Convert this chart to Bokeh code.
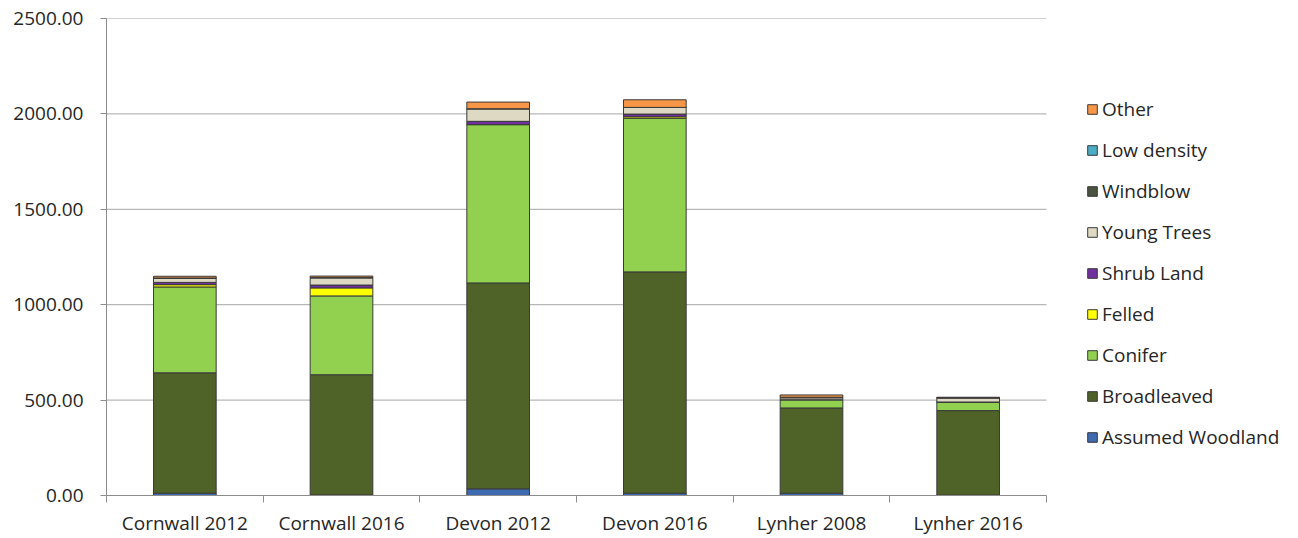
from bokeh.plotting import figure
from bokeh.models import Legend, LegendItem, Range1d, FixedTicker, NumeralTickFormatter, ColumnDataSource
from bokeh.embed import file_html
from bokeh.resources import INLINE

categories = ["Cornwall 2012", "Cornwall 2016", "Devon 2012", "Devon 2016", "Lynher 2008", "Lynher 2016"]
series_names = ["Assumed Woodland", "Broadleaved", "Conifer", "Felled", "Shrub Land",
                "Young Trees", "Windblow", "Low density", "Other"]

assumed_woodland = [12, 3, 35, 12, 12, 2]
broadleaved = [631, 630, 1079, 1160, 447, 443]
conifer = [450, 413, 830, 805, 43, 45]
felled = [12, 42, 0, 8, 0, 0]
shrub_land = [12, 15, 17, 14, 0, 0]
young_trees = [21, 37, 66, 35, 10, 22]
windblow = [2, 3, 0, 0, 3, 0]
low_density = [0, 0, 0, 0, 0, 0]
other = [9, 7, 35, 40, 12, 3]

y_ticks = [0, 500, 1000, 1500, 2000, 2500]

colors = ["#3D6AB0", "#4F6228", "#92D050", "#FFFF00", "#7030A0",
          "#DDD9C3", "#4A5240", "#4BACC6", "#F79646"]

positions = list(range(len(categories)))
source = ColumnDataSource(data={
    "x": positions,
    "Assumed Woodland": assumed_woodland,
    "Broadleaved": broadleaved,
    "Conifer": conifer,
    "Felled": felled,
    "Shrub Land": shrub_land,
    "Young Trees": young_trees,
    "Windblow": windblow,
    "Low density": low_density,
    "Other": other,
})

FONT = "Open Sans"
TXT = "#262626"

# plot area: axes span 940 px; frame extended to the right to hold the legend
AXIS_PX = 940
FRAME_PX = 1190
x_start = -0.5
x_axis_end = len(categories) - 0.5
x_end = x_start + (x_axis_end - x_start) * FRAME_PX / AXIS_PX

p = figure(width=1298, height=538,
           x_range=Range1d(x_start, x_end),
           y_range=Range1d(0, 2500),
           output_backend="svg", toolbar_location=None,
           min_border_left=106, min_border_right=1298 - 106 - FRAME_PX,
           min_border_top=18, min_border_bottom=42)
p.outline_line_color = None
p.background_fill_color = "white"

# horizontal gridlines limited to the axis extent
p.segment(x0=x_start, x1=x_axis_end, y0=y_ticks, y1=y_ticks,
          line_color="#a6a6a6", line_width=1, level="underlay")

renderers = p.vbar_stack(series_names, x="x", width=0.4, color=colors,
                         line_color="#3a3a3a", line_width=1, source=source)

# Y axis
p.yaxis.ticker = FixedTicker(ticks=y_ticks)
p.yaxis.formatter = NumeralTickFormatter(format="0.00")
p.yaxis.axis_line_color = "#8c8c8c"
p.yaxis.major_tick_line_color = "#8c8c8c"
p.yaxis.major_tick_out = 6
p.yaxis.major_tick_in = 0
p.yaxis.minor_tick_line_color = None
p.yaxis.major_label_standoff = 17
p.yaxis.major_label_text_font = FONT
p.yaxis.major_label_text_font_size = "19px"
p.yaxis.major_label_text_color = TXT

# X axis
p.xaxis.bounds = (x_start, x_axis_end)
p.xaxis.ticker = FixedTicker(ticks=positions,
                             minor_ticks=[i - 0.5 for i in range(len(categories) + 1)])
p.xaxis.major_label_overrides = {i: c for i, c in zip(positions, categories)}
p.xaxis.axis_line_color = "#8c8c8c"
p.xaxis.major_tick_line_color = None
p.xaxis.minor_tick_line_color = "#8c8c8c"
p.xaxis.minor_tick_out = 7
p.xaxis.minor_tick_in = 0
p.xaxis.major_label_standoff = 7
p.xaxis.major_label_text_font = FONT
p.xaxis.major_label_text_font_size = "19px"
p.xaxis.major_label_text_color = TXT

p.xgrid.grid_line_color = None
p.ygrid.grid_line_color = None

items = [LegendItem(label=name, renderers=[r]) for name, r in zip(series_names, renderers)]
items.reverse()
legend = Legend(items=items, location=(980, 45), padding=0, margin=0,
                glyph_width=12, glyph_height=12, label_standoff=4,
                label_height=20, spacing=15,
                label_text_font=FONT, label_text_font_size="19px",
                label_text_color=TXT,
                background_fill_alpha=0, border_line_color=None)
p.add_layout(legend, "center")

open("out.html", "w").write(file_html(p, INLINE))
